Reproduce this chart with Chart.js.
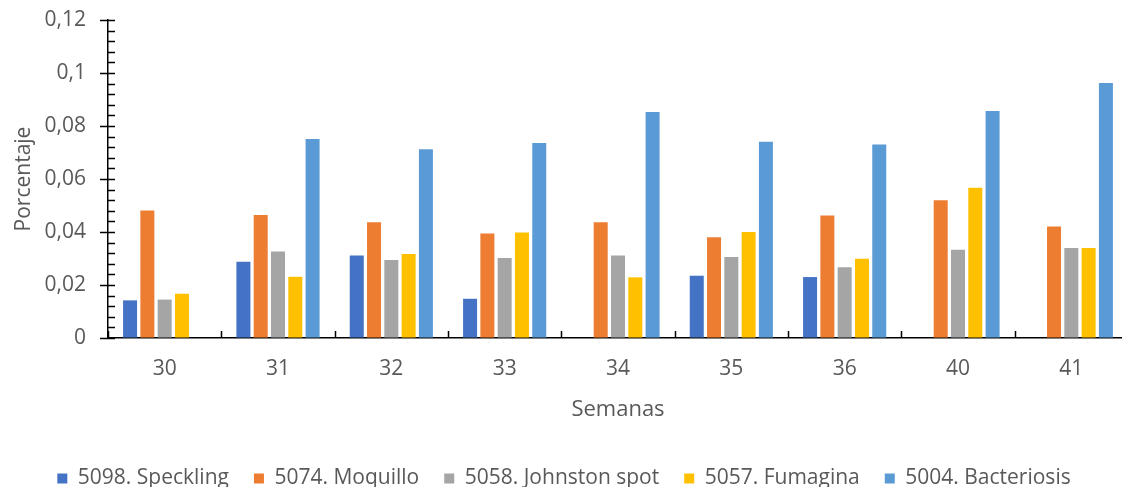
<!DOCTYPE html>
<html lang="es">
<head>
<meta charset="utf-8">
<title>Porcentaje por semana</title>
<script src="https://cdn.jsdelivr.net/npm/chart.js@4.4.1/dist/chart.umd.min.js"></script>
<style>
  html, body { margin: 0; padding: 0; background: #ffffff; overflow: hidden; }
  #wrap { width: 1130px; height: 499px; }
</style>
</head>
<body>
<div id="wrap"><canvas id="chart" width="1130" height="499"></canvas></div>
<script>
// Semanas de muestreo
const semanas = ['30', '31', '32', '33', '34', '35', '36', '40', '41'];

// Porcentaje por enfermedad (null = sin registro esa semana)
const speckling   = [0.0142, 0.0288, 0.0311, 0.0148, null,   0.0235, 0.0230, null,   null];
const moquillo    = [0.0481, 0.0464, 0.0437, 0.0394, 0.0437, 0.0380, 0.0462, 0.0520, 0.0421];
const johnston    = [0.0145, 0.0326, 0.0294, 0.0302, 0.0311, 0.0306, 0.0267, 0.0333, 0.0340];
const fumagina    = [0.0167, 0.0231, 0.0317, 0.0398, 0.0229, 0.0400, 0.0299, 0.0567, 0.0340];
const bacteriosis = [null,   0.0751, 0.0712, 0.0736, 0.0853, 0.0741, 0.0730, 0.0857, 0.0962];

const seriesNames = ['5098. Speckling', '5074. Moquillo', '5058. Johnston spot', '5057. Fumagina', '5004. Bacteriosis'];
const seriesColors = ['#4472C4', '#ED7D31', '#A5A5A5', '#FFC000', '#5B9BD5'];

// Etiquetas del eje vertical (coma decimal)
const yTickLabels = ['0', '0,02', '0,04', '0,06', '0,08', '0,1', '0,12'];

const FONT = "'Open Sans', 'Liberation Sans', sans-serif";
const TEXT = '#595959';
const AXIS = '#000000';

// Marcas de eje: principales cruzando el eje Y, secundarias hacia dentro,
// y marcas entre categorías hacia arriba sobre el eje X.
const axisTicks = {
  id: 'axisTicks',
  afterDraw(chart) {
    const {ctx, scales: {x, y}} = chart;
    ctx.save();
    ctx.strokeStyle = AXIS;
    ctx.lineWidth = 1.5;
    ctx.beginPath();
    const ax = x.left;
    const minor = 0.004, major = 0.02;
    const steps = Math.round(y.max / minor);
    for (let i = 0; i <= steps; i++) {
      const py = Math.round(y.getPixelForValue(i * minor)) + 0.5;
      const isMajor = i % Math.round(major / minor) === 0;
      ctx.moveTo(isMajor ? ax - 8 : ax, py);
      ctx.lineTo(ax + 7, py);
    }
    const n = semanas.length;
    const w = (x.right - x.left) / n;
    const by = y.getPixelForValue(0);
    for (let i = 0; i <= n; i++) {
      const px = Math.round(x.left + i * w) + 0.5;
      ctx.moveTo(px, by);
      ctx.lineTo(px, by - 7);
    }
    ctx.stroke();
    ctx.restore();
  }
};

const seriesData = [speckling, moquillo, johnston, fumagina, bacteriosis];

new Chart(document.getElementById('chart'), {
  type: 'bar',
  data: {
    labels: semanas,
    datasets: seriesData.map((d, i) => ({
      label: seriesNames[i],
      data: d,
      backgroundColor: seriesColors[i],
      borderWidth: 0,
      categoryPercentage: 0.763,
      barPercentage: 0.81
    }))
  },
  options: {
    responsive: false,
    animation: false,
    layout: { padding: { top: 20, right: 2, bottom: 0, left: 0 } },
    plugins: {
      tooltip: { enabled: false },
      legend: {
        position: 'bottom',
        labels: {
          boxWidth: 10,
          boxHeight: 10,
          padding: 25,
          color: TEXT,
          font: { family: FONT, size: 21 }
        }
      }
    },
    scales: {
      x: {
        grid: { display: true, drawOnChartArea: false, drawTicks: false },
        border: { display: true, color: AXIS, width: 1.5 },
        ticks: { color: TEXT, font: { family: FONT, size: 21 }, padding: 18 },
        title: {
          display: true,
          text: 'Semanas',
          color: TEXT,
          font: { family: FONT, size: 22 },
          padding: { top: 0, bottom: 20 }
        },
        afterFit(scale) { scale.height = 105; }
      },
      y: {
        min: 0,
        max: 0.12,
        grid: { display: true, drawOnChartArea: false, drawTicks: false },
        border: { display: true, color: AXIS, width: 1.5 },
        ticks: {
          stepSize: 0.02,
          color: TEXT,
          font: { family: FONT, size: 21 },
          padding: 22,
          callback: (value, index) => yTickLabels[index]
        },
        title: {
          display: true,
          text: 'Porcentaje',
          color: TEXT,
          font: { family: FONT, size: 21 },
          padding: { top: 11, bottom: 0 }
        },
        afterFit(scale) {
          scale.width = 108;
          scale.paddingTop = 0;
          scale.paddingBottom = 0;
        }
      }
    }
  },
  plugins: [axisTicks]
});
</script>
</body>
</html>
